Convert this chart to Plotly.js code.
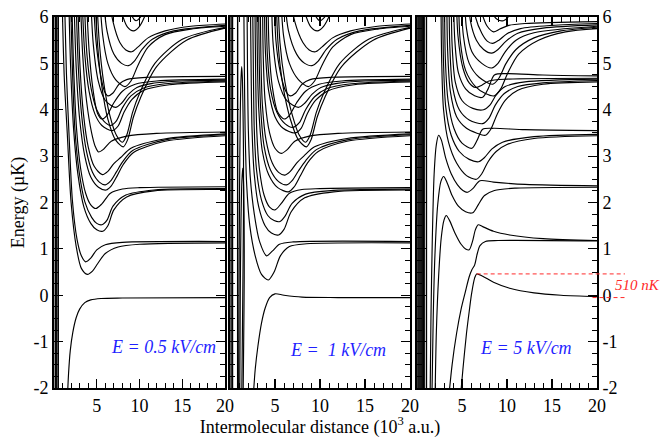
<!DOCTYPE html>
<html><head><meta charset="utf-8">
<script src="https://cdn.plot.ly/plotly-3.0.1.min.js"></script>
<style>html,body{margin:0;padding:0;background:#fff}#chart{width:661px;height:438px}</style>
</head><body><div id="chart"></div>
<script>
// ---------- tick data ----------
const xMajor = [5, 10, 15, 20];
const xLabels = ['5', '10', '15', '20'];
const xMinor = [1,2,3,4,6,7,8,9,11,12,13,14,16,17,18,19];
const yMajor = [-2,-1,0,1,2,3,4,5,6];
const yLabels = ['-2','-1','0','1','2','3','4','5','6'];
const yMinor = [-1.75,-1.5,-1.25,-0.75,-0.5,-0.25,0.25,0.5,0.75,1.25,1.5,1.75,2.25,2.5,2.75,3.25,3.5,3.75,4.25,4.5,4.75,5.25,5.5,5.75];
const fieldLabels = ['E = 0.5 kV/cm', 'E = \u00a01 kV/cm', 'E = 5 kV/cm'];

// ---------- Panel 1 : E = 0.5 kV/cm ----------
const coreSpan = [-2.5, 6.5];
const p1Core = [0.15, 0.32, 0.5];
const p1T0 = [
 [[1.55,-2.3],[1.7,-1.7],[1.9,-1.2],[2.2,-0.8],[2.6,-0.48],[3.0,-0.3],[3.6,-0.16],[4.3,-0.1],[5.5,-0.07],[8,-0.06],[20,-0.05]]
];
const p1T1 = [
 [[0.92,6.6],[1.2,4.7],[1.55,3.5],[2.0,2.0],[2.6,1.05],[3.2,0.58],[3.9,0.45],[4.5,0.52],[5.1,0.68],[6,0.9],[7.5,1.04],[10,1.1],[20,1.13]],
 [[1.2,6.6],[1.45,4.8],[1.75,3.5],[2.15,2.05],[2.7,1.2],[3.2,0.85],[3.7,0.72],[4.3,0.8],[5,0.98],[6,1.09],[8,1.14],[20,1.16]]
];
const p1T2 = [
 [[1.7,6.6],[1.95,4.9],[2.3,3.56],[2.8,2.6],[3.5,1.9],[4.3,1.55],[5.0,1.41],[5.7,1.38],[6.3,1.5],[7.0,1.84],[8.5,2.12],[11.7,2.25],[20,2.28]],
 [[1.9,6.6],[2.15,4.9],[2.45,3.56],[2.95,2.65],[3.6,2.02],[4.4,1.68],[5.0,1.55],[5.6,1.52],[6.2,1.62],[6.9,1.92],[8.4,2.16],[11.7,2.27],[20,2.3]],
 [[2.05,6.6],[2.3,4.9],[2.65,3.56],[3.1,2.75],[3.7,2.2],[4.3,1.95],[4.9,1.87],[5.6,1.97],[6.6,2.2],[8,2.29],[10,2.32],[20,2.34]]
];
const p1T3 = [
 [[2.3,6.6],[2.6,4.9],[3.0,3.8],[3.6,3.0],[4.3,2.55],[5.2,2.33],[6.1,2.27],[6.7,2.36],[7.4,2.58],[8.1,2.82],[9.3,3.08],[13,3.32],[20,3.44]],
 [[2.55,6.6],[2.85,4.9],[3.25,3.85],[3.8,3.1],[4.5,2.65],[5.3,2.44],[6.0,2.38],[6.6,2.46],[7.3,2.66],[8,2.87],[9.2,3.12],[13,3.35],[20,3.46]],
 [[2.75,6.6],[3.05,4.9],[3.45,3.9],[4.0,3.2],[4.7,2.78],[5.65,2.6],[6.3,2.67],[7.0,2.84],[7.8,2.97],[9,3.17],[12.9,3.37],[20,3.48]],
 [[3.05,6.6],[3.35,5.2],[3.8,4.2],[4.4,3.5],[4.8,3.22],[5.2,3.09],[5.8,3.15],[6.7,3.32],[8.5,3.43],[12,3.49],[20,3.52]]
];
const p1T4 = [
 [[3.25,6.6],[3.6,5.2],[4.1,4.4],[4.8,3.9],[5.6,3.66],[6.8,3.55],[7.5,3.65],[8.2,3.95],[9.1,4.22],[10.5,4.42],[13.5,4.54],[20,4.6]],
 [[3.5,6.6],[3.85,5.2],[4.35,4.45],[5.0,4.0],[5.8,3.76],[6.6,3.66],[7.3,3.76],[8.0,4.04],[9.0,4.3],[10.5,4.47],[13,4.56],[20,4.62]],
 [[3.75,6.6],[4.1,5.3],[4.55,4.45],[5.1,3.92],[5.6,3.8],[6.2,3.88],[7.0,4.15],[8.0,4.4],[9.5,4.55],[12,4.62],[20,4.66]],
 [[4.25,6.6],[4.6,5.4],[5.2,4.6],[6.0,4.2],[7.2,4.05],[7.9,4.14],[8.7,4.33],[9.7,4.48],[11.5,4.57],[15,4.62],[20,4.64]],
 [[4.55,6.6],[4.9,5.5],[5.4,4.8],[5.9,4.4],[6.3,4.3],[6.9,4.36],[7.6,4.55],[8.5,4.65],[11,4.7],[20,4.72]]
];
const p1T5 = [
 [[4.75,6.6],[5.1,5.4],[5.6,4.5],[6.3,3.8],[7.2,3.35],[8.1,3.2],[8.6,3.35],[9.3,3.85],[10.1,4.25],[12,4.93],[15.5,5.5],[20,5.76]],
 [[4.95,6.6],[5.3,5.45],[5.8,4.6],[6.5,3.9],[7.3,3.45],[8.0,3.3],[8.5,3.45],[9.2,3.95],[10,4.35],[11.8,5.0],[15,5.52],[20,5.78]],
 [[5.3,6.6],[5.7,5.6],[6.3,5.0],[7.2,4.65],[8.3,4.5],[9.0,4.62],[9.8,4.95],[11,5.35],[13,5.62],[16,5.74],[20,5.8]],
 [[5.7,6.6],[6.2,5.7],[7.0,5.2],[7.9,5.0],[8.7,4.95],[9.4,5.05],[10.3,5.3],[11.5,5.52],[14,5.7],[20,5.82]],
 [[6.3,6.6],[6.9,5.9],[7.7,5.45],[8.4,5.29],[9.1,5.25],[9.8,5.35],[11,5.55],[13,5.7],[16,5.8],[20,5.85]]
];
const p1T6 = [
 [[7.3,6.6],[7.9,6.1],[8.6,5.78],[9.3,5.7],[10,5.8],[10.8,6.1],[11.6,6.6]],
 [[8.3,6.6],[8.9,6.1],[9.6,5.92],[10.3,6.05],[11,6.6]]
];

// ---------- Panel 2 : E = 1 kV/cm ----------
const p2Core = [0.12, 0.28, 0.85];
const p2Spikes = [
 [[0.95,-2.3],[1.0,0],[1.06,2.2],[1.14,3.9],[1.23,4.7],[1.3,4.93],[1.37,4.7],[1.45,3.9],[1.5,3.0],[1.5,1.8],[1.42,0],[1.3,-2.3]],
 [[1.08,-2.3],[1.14,0],[1.22,1.6],[1.32,2.45],[1.41,2.74],[1.5,2.45],[1.57,1.6],[1.58,0.4],[1.52,-1],[1.45,-2.3]]
];
const p2T0 = [
 [[2.55,-2.3],[2.8,-1.6],[3.1,-1.1],[3.5,-0.6],[3.9,-0.28],[4.4,-0.05],[5.0,0.03],[6,0.0],[8,-0.04],[12,-0.05],[20,-0.05]]
];
const p2T1 = [
 [[1.52,6.6],[1.6,4.8],[1.68,3.56],[1.85,2.4],[2.2,1.5],[2.8,0.85],[3.5,0.45],[4.26,0.33],[4.9,0.5],[5.6,0.85],[6.6,1.05],[8.5,1.11],[20,1.13]],
 [[1.88,6.6],[1.95,4.8],[2.04,3.56],[2.25,2.55],[2.7,1.75],[3.3,1.15],[4.07,0.85],[4.7,0.95],[5.5,1.1],[7,1.15],[20,1.16]]
];
const p2T2 = [
 [[2.25,6.6],[2.35,4.8],[2.45,3.56],[2.7,2.6],[3.2,1.9],[3.9,1.5],[4.6,1.34],[5.4,1.3],[6.0,1.42],[6.8,1.8],[8.3,2.1],[11.5,2.23],[20,2.27]],
 [[2.5,6.6],[2.6,4.8],[2.7,3.56],[2.95,2.7],[3.5,2.05],[4.2,1.72],[4.9,1.61],[5.55,1.59],[6.1,1.7],[6.9,1.98],[8.4,2.18],[11.5,2.26],[20,2.29]],
 [[2.75,6.6],[2.85,4.8],[2.97,3.56],[3.25,2.75],[3.8,2.15],[4.4,1.9],[5.0,1.84],[5.7,1.98],[6.6,2.2],[8,2.28],[10,2.3],[20,2.32]]
];
const p2T3 = [
 [[2.95,6.6],[3.05,5.0],[3.2,4.0],[3.6,3.1],[4.3,2.6],[5.3,2.32],[6.5,2.23],[7.1,2.33],[7.8,2.57],[8.6,2.85],[9.8,3.1],[13,3.32],[20,3.44]],
 [[3.15,6.6],[3.25,5.0],[3.4,4.05],[3.8,3.2],[4.5,2.7],[5.4,2.45],[6.3,2.38],[6.9,2.47],[7.6,2.68],[8.4,2.9],[9.6,3.14],[13,3.35],[20,3.46]],
 [[3.35,6.6],[3.45,5.0],[3.6,4.1],[4.0,3.35],[4.7,2.85],[5.4,2.65],[6.1,2.59],[6.7,2.67],[7.4,2.85],[8.2,3.0],[9.4,3.2],[13,3.38],[20,3.48]],
 [[3.6,6.6],[3.7,5.1],[3.9,4.2],[4.4,3.5],[5.0,3.17],[5.7,3.06],[6.3,3.13],[7.2,3.32],[8.8,3.43],[12,3.49],[20,3.52]]
];
const p2T4 = [
 [[3.8,6.6],[3.95,5.2],[4.3,4.4],[5.0,3.85],[5.9,3.6],[7.2,3.5],[7.9,3.6],[8.6,3.92],[9.5,4.2],[10.9,4.41],[13.8,4.54],[20,4.6]],
 [[4.0,6.6],[4.15,5.2],[4.5,4.45],[5.2,3.95],[6.1,3.7],[7.0,3.62],[7.7,3.72],[8.4,4.0],[9.4,4.28],[10.8,4.46],[13.5,4.56],[20,4.62]],
 [[4.2,6.6],[4.35,5.3],[4.7,4.5],[5.3,3.95],[6.0,3.8],[6.6,3.88],[7.4,4.15],[8.4,4.4],[9.9,4.55],[12.4,4.62],[20,4.66]],
 [[4.6,6.6],[4.8,5.4],[5.4,4.6],[6.3,4.2],[7.6,4.05],[8.3,4.14],[9.1,4.33],[10.1,4.48],[11.9,4.57],[15,4.62],[20,4.64]],
 [[4.9,6.6],[5.1,5.5],[5.6,4.8],[6.2,4.4],[6.7,4.3],[7.3,4.36],[8.0,4.55],[8.9,4.65],[11.4,4.7],[20,4.72]]
];
const p2T5 = [
 [[5.1,6.6],[5.35,5.4],[5.9,4.5],[6.7,3.8],[7.6,3.35],[8.5,3.2],[9.0,3.35],[9.7,3.85],[10.5,4.25],[12.4,4.93],[15.9,5.5],[20,5.76]],
 [[5.3,6.6],[5.55,5.45],[6.1,4.6],[6.9,3.9],[7.7,3.45],[8.4,3.3],[8.9,3.45],[9.6,3.95],[10.4,4.35],[12.2,5.0],[15.4,5.52],[20,5.78]],
 [[5.6,6.6],[5.95,5.6],[6.6,5.0],[7.6,4.65],[8.7,4.5],[9.4,4.62],[10.2,4.95],[11.4,5.35],[13.4,5.62],[16.4,5.74],[20,5.8]],
 [[6.0,6.6],[6.5,5.7],[7.4,5.2],[8.3,5.0],[9.1,4.95],[9.8,5.05],[10.7,5.3],[11.9,5.52],[14.4,5.7],[20,5.82]],
 [[6.6,6.6],[7.2,5.9],[8.1,5.45],[8.8,5.29],[9.5,5.25],[10.2,5.35],[11.4,5.55],[13.4,5.7],[16.4,5.8],[20,5.85]]
];
const p2T6 = [
 [[7.7,6.6],[8.3,6.1],[9.0,5.78],[9.7,5.7],[10.4,5.8],[11.2,6.1],[12,6.6]],
 [[8.7,6.6],[9.3,6.1],[10.0,5.92],[10.7,6.05],[11.4,6.6]]
];

// ---------- Panel 3 : E = 5 kV/cm ----------
const p3Core = [0.1, 0.22, 0.34, 0.46, 0.58, 0.7, 0.8, 1.05];
const p3Humps = [
 [[1.45,-2.3],[1.55,-0.5],[1.7,1.2],[1.9,2.6],[2.15,3.25],[2.4,3.45],[2.7,3.35],[3.2,2.95],[3.8,2.62],[4.5,2.38],[5.1,2.26],[5.6,2.22],[6.2,2.3],[7.0,2.47],[8.5,2.44],[12,2.39],[20,2.36]],
 [[1.65,-2.3],[1.8,-0.5],[2.0,0.9],[2.3,1.95],[2.65,2.45],[2.96,2.56],[3.3,2.45],[3.9,2.15],[4.6,1.92],[5.4,1.8],[6.2,1.78],[6.8,1.95],[7.5,2.15],[8.6,2.26],[11,2.31],[20,2.33]],
 [[2.0,-2.3],[2.15,-0.8],[2.4,0.4],[2.7,1.25],[3.0,1.62],[3.25,1.72],[3.6,1.62],[4.2,1.35],[4.9,1.1],[5.4,1.0],[5.8,0.98],[6.15,1.15],[6.5,1.42],[6.8,1.52],[7.3,1.48],[8.5,1.38],[10.3,1.3],[14,1.22],[20,1.18]]
];
const p3Rise = [
 [[3.48,-2.3],[3.9,-1.5],[4.4,-0.82],[4.9,-0.3],[5.33,0.04],[5.8,0.4],[6.1,0.55],[6.4,0.65],[6.7,0.9],[7.0,1.07],[7.6,1.16],[9,1.18],[20,1.17]],
 [[4.78,-2.3],[5.1,-1.6],[5.5,-0.82],[5.8,-0.35],[6.07,0.04],[6.4,0.37],[6.63,0.46],[7.3,0.41],[8.5,0.28],[10.3,0.15],[13,0.05],[16,0.0],[20,-0.03]]
];
const p3T3 = [
 [[2.65,6.6],[2.75,5.0],[2.95,4.0],[3.5,3.3],[4.4,2.85],[5.5,2.58],[6.6,2.5],[7.2,2.62],[7.9,2.88],[8.8,3.1],[10,3.25],[13,3.38],[20,3.44]],
 [[2.85,6.6],[2.95,5.0],[3.2,4.05],[3.8,3.45],[4.7,3.1],[5.8,2.93],[6.85,2.88],[7.5,2.97],[8.3,3.15],[9.5,3.3],[13,3.42],[20,3.47]],
 [[3.05,6.6],[3.15,5.1],[3.45,4.2],[4.1,3.6],[5.0,3.28],[6.1,3.17],[6.7,3.35],[7.3,3.58],[8.5,3.6],[12,3.57],[20,3.55]]
];
const p3T4 = [
 [[3.3,6.6],[3.4,5.3],[3.7,4.4],[4.4,3.85],[5.5,3.6],[6.6,3.5],[7.6,3.45],[8.2,3.58],[8.9,3.9],[9.8,4.2],[11.2,4.42],[14,4.55],[20,4.6]],
 [[3.55,6.6],[3.65,5.35],[3.95,4.5],[4.7,4.0],[5.8,3.78],[7.3,3.7],[8.0,3.82],[8.7,4.1],[9.7,4.35],[11.2,4.5],[14,4.58],[20,4.63]],
 [[3.8,6.6],[3.9,5.4],[4.25,4.6],[5.0,4.2],[6.2,4.03],[7.4,4.0],[8.1,4.1],[8.8,4.32],[9.8,4.5],[12,4.6],[20,4.66]],
 [[4.05,6.6],[4.2,5.5],[4.6,4.8],[5.4,4.45],[6.4,4.3],[7.3,4.27],[7.9,4.45],[8.6,4.75],[10,4.78],[14,4.75],[20,4.73]],
 [[4.35,6.6],[4.55,5.6],[5.1,4.9],[5.8,4.58],[6.5,4.48],[7.2,4.53],[8.0,4.62],[10,4.66],[20,4.68]]
];
const p3T5 = [
 [[4.6,6.6],[4.8,5.5],[5.4,4.85],[6.5,4.5],[7.6,4.35],[8.6,4.3],[9.3,4.45],[10.1,4.8],[11.3,5.2],[13.5,5.5],[16.5,5.68],[20,5.75]],
 [[4.9,6.6],[5.15,5.6],[5.8,5.0],[6.9,4.7],[8.4,4.55],[9.1,4.68],[9.9,5.0],[11,5.3],[13,5.55],[16,5.7],[20,5.78]],
 [[5.25,6.6],[5.5,5.75],[6.1,5.25],[7.2,5.0],[8.3,4.9],[9.0,5.0],[9.8,5.25],[11,5.5],[13,5.66],[20,5.8]],
 [[5.65,6.6],[5.95,5.9],[6.6,5.5],[7.4,5.3],[8.3,5.22],[9.0,5.3],[9.9,5.48],[11.2,5.65],[14,5.76],[20,5.83]],
 [[6.1,6.6],[6.5,6.0],[7.2,5.65],[7.8,5.48],[8.4,5.43],[9.1,5.5],[10,5.64],[11.5,5.75],[15,5.82],[20,5.86]],
 [[6.6,6.6],[7.1,6.15],[7.8,5.8],[8.5,5.68],[9.2,5.74],[10.2,5.82],[12,5.86],[20,5.9]]
];
const p3T6 = [
 [[7.6,6.6],[8.2,6.15],[8.9,5.95],[9.6,5.92],[10.3,6.05],[11,6.6]]
];

// barrier marker (µK): top of the barrier and the s-wave threshold
const barrierX = [6.63, 23.1];
const barrierY = [0.46, 0.46];
const thresholdX = [19.5, 23.1];
const thresholdY = [-0.05, -0.05];
const barrierLabel = '510 nK';

// ---------- build ----------
const SERIF = 'Liberation Serif';
const traces = [];
function addCurves(list, xa, ya) {
  list.forEach(c => traces.push({
    type: 'scatter', mode: 'lines', x: c.map(p => p[0]), y: c.map(p => p[1]),
    xaxis: xa, yaxis: ya, hoverinfo: 'skip', showlegend: false,
    line: {color: '#000', width: 1.15, shape: 'spline', smoothing: 0.8}
  }));
}
function addCore(xs, xa, ya) {
  xs.forEach(v => traces.push({
    type: 'scatter', mode: 'lines', x: [v, v], y: coreSpan,
    xaxis: xa, yaxis: ya, hoverinfo: 'skip', showlegend: false,
    line: {color: '#000', width: 1.4}
  }));
}
addCore(p1Core, 'x', 'y');
[p1T0, p1T1, p1T2, p1T3, p1T4, p1T5, p1T6].forEach(g => addCurves(g, 'x', 'y'));
addCore(p2Core, 'x2', 'y2');
[p2Spikes, p2T0, p2T1, p2T2, p2T3, p2T4, p2T5, p2T6].forEach(g => addCurves(g, 'x2', 'y2'));
addCore(p3Core, 'x3', 'y3');
[p3Humps, p3Rise, p3T3, p3T4, p3T5, p3T6].forEach(g => addCurves(g, 'x3', 'y3'));

[[barrierX, barrierY], [thresholdX, thresholdY]].forEach(([xs, ys]) => traces.push({
  type: 'scatter', mode: 'lines', x: xs, y: ys, xaxis: 'x4', yaxis: 'y4',
  hoverinfo: 'skip', showlegend: false,
  line: {color: '#ff2a2a', width: 1, dash: '4px,3px'}
}));

const W = 661, H = 438;
const pxX = p => p / W;
const yDom = [1 - 388 / H, 1 - 17 / H];
const dom1 = [pxX(54), pxX(225)], dom2 = [pxX(230), pxX(410)], dom3 = [pxX(417), pxX(597)];

function xax(domain, anchor) {
  return {
    domain, anchor, range: [0, 20], tickmode: 'array', tickvals: xMajor, ticktext: xLabels,
    ticks: 'inside', ticklen: 9, tickwidth: 1.2, tickcolor: '#000', mirror: 'allticks',
    showline: true, linewidth: 2, linecolor: '#000', showgrid: false, zeroline: false,
    tickfont: {family: SERIF, size: 18, color: '#000'}, fixedrange: true,
    minor: {tickmode: 'array', tickvals: xMinor, ticks: 'inside', ticklen: 5, tickwidth: 1, tickcolor: '#000', showgrid: false}
  };
}
function yax(anchor, side, labels) {
  return {
    domain: yDom, anchor, side, range: [-2, 6], tickmode: 'array', tickvals: yMajor, ticktext: yLabels,
    showticklabels: labels, ticks: 'inside', ticklen: 9, tickwidth: 1.2, tickcolor: '#000', mirror: 'allticks',
    showline: true, linewidth: 2, linecolor: '#000', showgrid: false, zeroline: false,
    tickfont: {family: SERIF, size: 18, color: '#000'}, fixedrange: true,
    minor: {tickmode: 'array', tickvals: yMinor, ticks: 'inside', ticklen: 5, tickwidth: 1, tickcolor: '#000', showgrid: false}
  };
}

const layout = {
  width: W, height: H, margin: {l: 0, r: 0, t: 0, b: 0, pad: 0},
  paper_bgcolor: '#fff', plot_bgcolor: 'rgba(0,0,0,0)', showlegend: false,
  xaxis: xax(dom1, 'y'), xaxis2: xax(dom2, 'y2'), xaxis3: xax(dom3, 'y3'),
  xaxis4: {domain: [dom3[0], 1], anchor: 'y4', range: [0, 20 * (W - 417) / 180], visible: false, fixedrange: true},
  yaxis: yax('x', 'left', true), yaxis2: yax('x2', 'left', false), yaxis3: yax('x3', 'right', true),
  yaxis4: {domain: yDom, anchor: 'x4', range: [-2, 6], visible: false, fixedrange: true},
  annotations: [
    {xref: 'x', yref: 'y', x: 12.75, y: -1.11, text: '<i>' + fieldLabels[0] + '</i>', showarrow: false, font: {family: SERIF, size: 18, color: '#1f1fff'}},
    {xref: 'x2', yref: 'y2', x: 12.0, y: -1.18, text: '<i>' + fieldLabels[1] + '</i>', showarrow: false, font: {family: SERIF, size: 18, color: '#1f1fff'}},
    {xref: 'x3', yref: 'y3', x: 12.1, y: -1.14, text: '<i>' + fieldLabels[2] + '</i>', showarrow: false, font: {family: SERIF, size: 18, color: '#1f1fff'}},
    {xref: 'x4', yref: 'y4', x: 24.5, y: 0.22, text: '<i>' + barrierLabel + '</i>', showarrow: false, font: {family: SERIF, size: 15, color: '#ff2a2a'}}
  ]
};
layout.xaxis2.title = {text: 'Intermolecular distance (10<sup>3</sup> a.u.)', font: {family: SERIF, size: 18, color: '#000'}, standoff: 8};
layout.yaxis.title = {text: 'Energy (µK)', font: {family: SERIF, size: 18, color: '#000'}, standoff: 4};

Plotly.newPlot('chart', traces, layout, {staticPlot: true, displayModeBar: false});
</script>
</body></html>
